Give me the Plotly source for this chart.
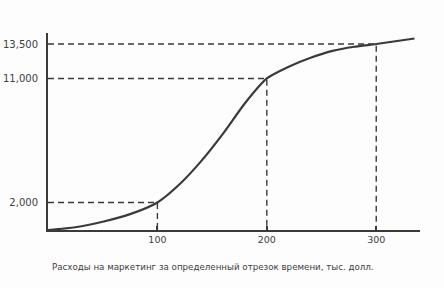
import plotly.graph_objects as go

# Curve: marketing spend S-curve
curve_x = [0, 25, 50, 75, 100, 120, 140, 160, 180, 200, 220, 240, 260, 280, 300, 335]
curve_y = [0, 200, 600, 1150, 2000, 3300, 5000, 7000, 9200, 11000, 11850, 12500, 13000, 13300, 13500, 13900]

# Marked points with dashed guides
mark_x = [100, 200, 300]
mark_y = [2000, 11000, 13500]

x_ticks = [100, 200, 300]
x_labels = ["100", "200", "300"]
y_ticks = [2000, 11000, 13500]
y_labels = ["2,000", "11,000", "13,500"]

caption = "Расходы на маркетинг за определенный отрезок времени, тыс. долл."

line_col = "#3a3a3a"
text_col = "#404040"
font_fam = "DejaVu Sans"

fig = go.Figure()

# dashed guides
for mx, my in zip(mark_x, mark_y):
    fig.add_trace(go.Scatter(
        x=[0, mx, mx], y=[my, my, 0], mode="lines",
        line=dict(color=line_col, width=1.4, dash="6px,4px"),
        hoverinfo="skip", showlegend=False))

fig.add_trace(go.Scatter(
    x=curve_x, y=curve_y, mode="lines",
    line=dict(color=line_col, width=2.2, shape="spline", smoothing=0.6),
    showlegend=False))

fig.update_layout(
    width=444, height=288,
    margin=dict(l=48, r=24, t=33, b=58),
    paper_bgcolor="#fdfdfd", plot_bgcolor="#fdfdfd",
    font=dict(family=font_fam, color=text_col, size=9),
    xaxis=dict(range=[0, 340], showgrid=False, zeroline=False, automargin=False,
               showline=True, linecolor=line_col, linewidth=2,
               tickmode="array", tickvals=x_ticks, ticktext=x_labels,
               ticks="inside", ticklen=4, tickcolor=line_col, tickwidth=1.5,
               tickfont=dict(size=9.5, family=font_fam, color=text_col)),
    yaxis=dict(range=[0, 14300], showgrid=False, zeroline=False, automargin=False,
               showline=True, linecolor=line_col, linewidth=2,
               tickmode="array", tickvals=y_ticks, ticktext=y_labels,
               ticks="", ticklabelstandoff=6,
               tickfont=dict(size=10, family=font_fam, color=text_col)),
    annotations=[dict(text=caption, xref="paper", yref="paper",
                      x=0.005, y=-0.188, xanchor="left", yanchor="middle",
                      showarrow=False,
                      font=dict(size=8.7, family=font_fam, color=text_col))],
)

fig.write_html("out.html")
